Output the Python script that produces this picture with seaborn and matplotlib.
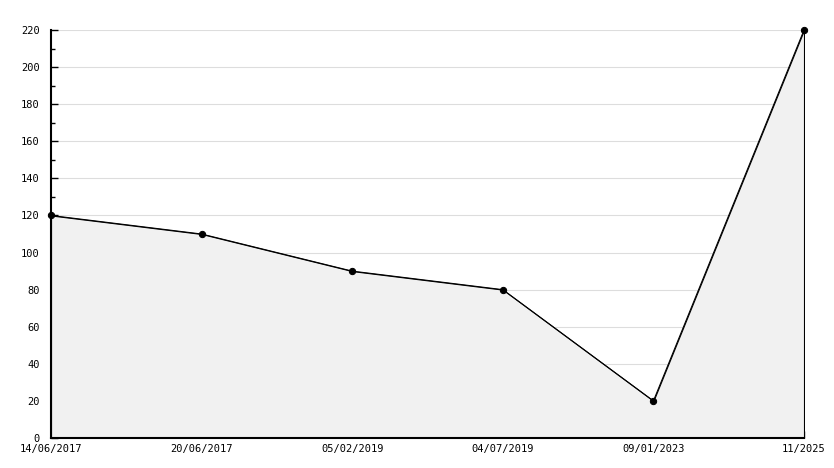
import matplotlib
matplotlib.use("Agg")
import matplotlib.pyplot as plt
import seaborn as sns
import pandas as pd
import numpy as np
from matplotlib.ticker import MultipleLocator

dates = ["14/06/2017", "20/06/2017", "05/02/2019", "04/07/2019", "09/01/2023", "11/2025"]
values = [120, 110, 90, 80, 20, 220]

df = pd.DataFrame({"pos": np.arange(len(dates)), "value": values})

sns.set_theme(style="white")
plt.rcParams["font.family"] = ["DejaVu Sans Mono"]

fig = plt.figure(figsize=(8.34, 4.68), dpi=100)
ax = fig.add_axes([51/834, 30/468, (804-51)/834, (438-30)/468])

ax.fill_between(df["pos"], df["value"], 0, facecolor="#f1f1f1",
                edgecolor="black", linewidth=0.8, zorder=2)
sns.lineplot(data=df, x="pos", y="value", ax=ax, color="black", linewidth=0.75,
             marker="o", markersize=4.5, markeredgecolor="black", zorder=3,
             clip_on=False)

ax.set_xlim(0, len(dates) - 1)
ax.set_ylim(0, 220)
ax.set_xticks(df["pos"])
ax.set_xticklabels(dates)
ax.yaxis.set_major_locator(MultipleLocator(20))
ax.yaxis.set_minor_locator(MultipleLocator(10))
ax.grid(axis="y", which="major", color="#dddddd", linewidth=0.8)
ax.set_axisbelow(True)
for gl in ax.get_ygridlines():
    gl.set_zorder(0.5)
ax.set_xlabel("")
ax.set_ylabel("")

for s in ["top", "right"]:
    ax.spines[s].set_visible(False)
for s in ["left", "bottom"]:
    ax.spines[s].set_color("black")
    ax.spines[s].set_linewidth(1.5)
    ax.spines[s].set_zorder(4)

ax.tick_params(axis="both", which="major", direction="in", length=5, width=1,
               color="black", labelsize=7.5, labelcolor="black")
ax.tick_params(axis="y", which="minor", direction="in", length=3, width=1, color="black", left=True)
ax.tick_params(axis="y", which="major", left=True, pad=8)
ax.tick_params(axis="x", which="major", bottom=True, pad=4)

fig.savefig("out.png", dpi=100)
